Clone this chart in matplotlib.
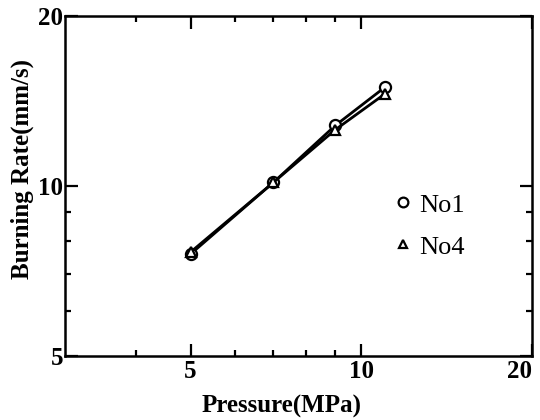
import matplotlib
matplotlib.use("Agg")
import matplotlib.pyplot as plt
from matplotlib.ticker import FixedLocator, NullFormatter, FixedFormatter
from matplotlib.lines import Line2D

plt.rcParams['font.family'] = ['Liberation Serif', 'DejaVu Serif']

# data
pressure = [5, 7, 9, 11]
rate_no1 = [7.58, 10.15, 12.8, 14.95]
rate_no4 = [7.64, 10.15, 12.58, 14.55]

x_major = [5, 10, 20]
x_minor = [4, 6, 7, 8, 9]
y_major = [5, 10, 20]
y_minor = [6, 7, 8, 9]

fig = plt.figure(figsize=(5.4, 4.2), dpi=100)
ax = fig.add_axes([0.120, 0.152, 0.865, 0.810])

ax.plot(pressure, rate_no1, color='black', lw=2.0, marker='o', ms=8,
        mfc='white', mec='black', mew=1.6, zorder=3)
ax.plot(pressure, rate_no4, color='black', lw=2.0, marker='^', ms=6.5,
        mfc='white', mec='black', mew=1.6, zorder=4)

ax.set_xscale('log')
ax.set_yscale('log')
ax.set_xlim(3, 20)
ax.set_ylim(5, 20)

ax.xaxis.set_major_locator(FixedLocator(x_major))
ax.xaxis.set_major_formatter(FixedFormatter([str(v) for v in x_major]))
ax.xaxis.set_minor_locator(FixedLocator(x_minor))
ax.xaxis.set_minor_formatter(NullFormatter())
ax.yaxis.set_major_locator(FixedLocator(y_major))
ax.yaxis.set_major_formatter(FixedFormatter([str(v) for v in y_major]))
ax.yaxis.set_minor_locator(FixedLocator(y_minor))
ax.yaxis.set_minor_formatter(NullFormatter())

ax.tick_params(which='both', direction='in', top=True, right=True, width=1.6)
ax.tick_params(which='major', length=9, labelsize=18, pad=3)
ax.tick_params(which='minor', length=4)
ax.tick_params(axis='y', which='major', pad=1)
for lab in ax.get_xticklabels() + ax.get_yticklabels():
    lab.set_fontweight('bold')
# keep the "20" at the right edge inside the picture
ax.get_xticklabels()[-1].set_horizontalalignment('right')

for s in ax.spines.values():
    s.set_linewidth(1.8)

ax.set_xlabel('Pressure(MPa)', fontsize=18, fontweight='bold')
ax.set_ylabel('Burning Rate(mm/s)', fontsize=18, fontweight='bold')
ax.xaxis.set_label_coords(0.465, -0.115)
ax.yaxis.set_label_coords(-0.066, 0.55)

handles = [
    Line2D([], [], ls='none', marker='o', ms=7, mfc='white', mec='black', mew=1.6),
    Line2D([], [], ls='none', marker='^', ms=6, mfc='white', mec='black', mew=1.6),
]
ax.legend(handles, ['No1', 'No4'], loc='upper left', bbox_to_anchor=(0.685, 0.51),
          frameon=False, fontsize=19, handlelength=0.6, handletextpad=0.3,
          labelspacing=0.7, borderaxespad=0)

fig.savefig('out.png', dpi=100)
